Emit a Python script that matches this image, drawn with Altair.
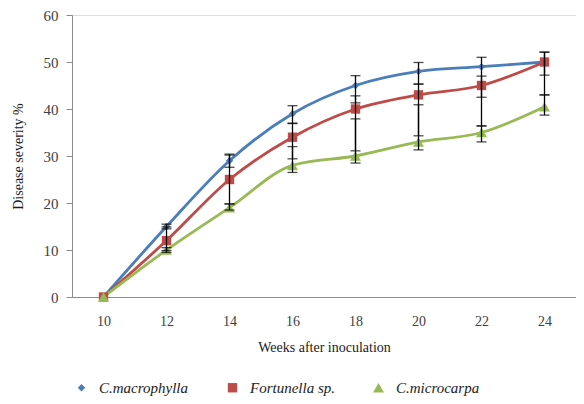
import altair as alt
import pandas as pd

weeks = [10, 12, 14, 16, 18, 20, 22, 24]
series = ["C.macrophylla", "Fortunella sp.", "C.microcarpa"]
colors = ["#4A7EBB", "#BE4B48", "#98B954"]
shapes = ["diamond", "square", "triangle-up"]
sizes = [55, 120, 85]

macrophylla = [0, 15, 29, 39, 45, 48, 49, 50]
fortunella = [0, 12, 25, 34, 40, 43, 45, 50]
microcarpa = [0, 10, 19, 28, 30, 33, 35, 40.5]

macro_low = [0, 14.5, 27.6, 37, 41.3, 45.3, 42.5, 47.2]
macro_high = [0, 15.5, 30.4, 40.7, 47.1, 49.9, 51, 52.1]
fort_low = [0, 9.9, 19.8, 29.4, 31.1, 34.3, 36.4, 43]
fort_high = [0, 14.9, 30.2, 36.9, 42.8, 45.3, 47, 52.1]
micro_low = [0, 9.5, 18.5, 26.5, 28.5, 31.3, 33, 38.7]
micro_high = [0, 10.5, 19.8, 32, 37.9, 40.9, 36.4, 43]

rows = []
for name, vals, lo, hi in [
    (series[0], macrophylla, macro_low, macro_high),
    (series[1], fortunella, fort_low, fort_high),
    (series[2], microcarpa, micro_low, micro_high),
]:
    for w, v, l, h in zip(weeks, vals, lo, hi):
        rows.append({"week": str(w), "series": name, "value": v, "low": l, "high": h})
df = pd.DataFrame(rows)

FONT = "Liberation Serif"

x = alt.X("week:O", sort=[str(w) for w in weeks],
          scale=alt.Scale(type="point", padding=0.5),
          axis=alt.Axis(title="Weeks after inoculation", labelAngle=0, ticks=False,
                        labelPadding=17, titlePadding=12, domainColor="#8c8c8c",
                        labelColor="#404040", titleColor="#1a1a1a",
                        labelFont=FONT, titleFont=FONT, labelFontSize=14,
                        titleFontSize=14, titleFontWeight="normal"))
y = alt.Y("value:Q", scale=alt.Scale(domain=[0, 60], nice=False),
          axis=alt.Axis(title="Disease severity %", values=[0, 10, 20, 30, 40, 50, 60],
                        grid=False, tickSize=6, tickColor="#8c8c8c", domainColor="#8c8c8c",
                        labelColor="#404040", titleColor="#1a1a1a", labelPadding=8,
                        titlePadding=18, labelFont=FONT, titleFont=FONT,
                        labelFontSize=15, titleFontSize=14, titleFontWeight="normal"))

legend = alt.Legend(title=None, orient="none", direction="horizontal",
                    legendX=2, legendY=365, columnPadding=36, labelOffset=10,
                    labelFont=FONT, labelFontStyle="italic",
                    labelFontSize=15, labelColor="#222222",
                    symbolSize=90, symbolStrokeWidth=0)

color = alt.Color("series:N", sort=series,
                  scale=alt.Scale(domain=series, range=colors), legend=legend)
shape = alt.Shape("series:N", sort=series,
                  scale=alt.Scale(domain=series, range=shapes), legend=legend)

base = alt.Chart(df)

lines = base.mark_line(interpolate="monotone", strokeWidth=2.8).encode(
    x=x, y=y, color=color, detail="series:N")

points = base.mark_point(filled=True, opacity=1).encode(
    x=x, y=y, color=color, shape=shape,
    size=alt.Size("series:N", scale=alt.Scale(domain=series, range=sizes), legend=None))

errs = base.transform_filter("datum.high > datum.low")
rule = errs.mark_rule(color="black", strokeWidth=1.3).encode(
    x=x, y=alt.Y("low:Q"), y2="high:Q")
cap_lo = errs.mark_tick(color="black", thickness=1.3, size=10).encode(x=x, y=alt.Y("low:Q"))
cap_hi = errs.mark_tick(color="black", thickness=1.3, size=10).encode(x=x, y=alt.Y("high:Q"))

chart = alt.layer(lines, points, rule, cap_lo, cap_hi).properties(
    width=504, height=282,
    autosize=alt.AutoSizeParams(type="none"),
    padding={"left": 64, "top": 7, "right": 0, "bottom": 99},
).configure_view(stroke=None).configure(background="white")

chart.save("out.html", embed_options={"renderer": "svg", "actions": False})
